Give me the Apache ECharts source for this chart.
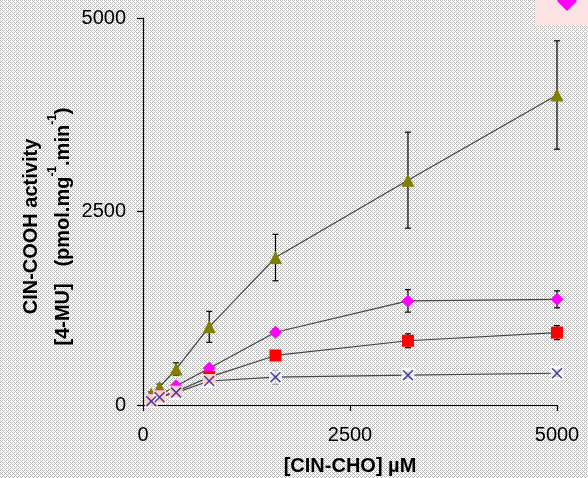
<!DOCTYPE html>
<html>
<head>
<meta charset="utf-8">
<script src="https://cdn.jsdelivr.net/npm/echarts@6/dist/echarts.min.js"></script>
<style>html,body{margin:0;padding:0;background:#fff}#c{width:588px;height:478px}</style>
</head>
<body>
<div id="c"></div>
<script>
// ---- data ----
var xVals = [100, 200, 400, 800, 1600, 3200, 5000];
var oliveVals = [140, 230, 465, 1010, 1905, 2905, 4005];
var oliveErr  = [30, 40, 80, 200, 300, 620, 700];
var magentaVals = [70, 130, 245, 474, 940, 1345, 1365];
var magentaErr  = [15, 20, 25, 30, 40, 145, 110];
var redVals = [60, 110, 175, 360, 640, 830, 935];
var redErr  = [10, 15, 20, 30, 55, 90, 90];
var blueVals = [50, 100, 160, 310, 360, 385, 410];
var blueErr  = [5, 10, 15, 20, 85, 40, 40];
var xTicks = [0, 2500, 5000];
var yTicks = [0, 2500, 5000];
var seriesNames = ['Series 1', 'Series 2', 'Series 3', 'Series 4'];

// ---- background pattern ----
var tile = document.createElement('canvas');
tile.width = 4; tile.height = 4;
var tc = tile.getContext('2d');
tc.fillStyle = '#ffffff'; tc.fillRect(0, 0, 4, 4);
tc.fillStyle = '#b8b8b8';
[[0,0],[2,0],[1,1],[0,2],[2,2],[3,3]].forEach(function (p) { tc.fillRect(p[0], p[1], 1, 1); });

function pts(vals) { return xVals.map(function (x, i) { return [x, vals[i]]; }); }
function errPts(vals, errs) { return xVals.map(function (x, i) { return [x, vals[i], errs[i]]; }); }

function errRender(params, api) {
  var x = api.value(0), y = api.value(1), e = api.value(2);
  var t = api.coord([x, y + e]);
  var b = api.coord([x, y - e]);
  var w = 3;
  var st = { stroke: '#000', lineWidth: 1.2 };
  return {
    type: 'group',
    children: [
      { type: 'line', shape: { x1: t[0], y1: t[1], x2: b[0], y2: b[1] }, style: st },
      { type: 'line', shape: { x1: t[0] - w, y1: t[1], x2: t[0] + w, y2: t[1] }, style: st },
      { type: 'line', shape: { x1: b[0] - w, y1: b[1], x2: b[0] + w, y2: b[1] }, style: st }
    ]
  };
}

function errSeries(vals, errs, z) {
  return { type: 'custom', renderItem: errRender, data: errPts(vals, errs), z: z, silent: true };
}

var lineStyle = { color: '#444', width: 1.2 };
var xPath = 'path://M0,1 L1,0 L10,9 L9,10 Z M9,0 L10,1 L1,10 L0,9 Z';

var chart = echarts.init(document.getElementById('c'), null, { renderer: 'canvas' });
chart.setOption({
  animation: false,
  backgroundColor: { image: tile, repeat: 'repeat' },
  textStyle: { fontFamily: 'Liberation Sans, Arial, sans-serif' },
  grid: { left: 143, right: 31, top: 18, bottom: 73, containLabel: false, outerBoundsMode: 'none' },
  graphic: [
    { type: 'rect', left: 535, top: 0, z: 0, shape: { width: 53, height: 25 }, style: { fill: '#fde2e4' }, silent: true }
  ],
  legend: {
    data: [seriesNames[1]],
    left: 557, top: -9,
    align: 'left',
    padding: 0,
    itemWidth: 20, itemHeight: 20,
    itemGap: 0,
    icon: 'diamond',
    formatter: function () { return ''; },
    textStyle: { fontSize: 14, color: '#444' }
  },
  xAxis: {
    type: 'value', min: 0, max: 5000, interval: 2500,
    name: '[CIN-CHO] µM', nameLocation: 'middle', nameGap: 51, nameMoveOverlap: false,
    nameTextStyle: { fontSize: 20, fontWeight: 'bold', color: '#000' },
    axisLine: { show: true, onZero: false, lineStyle: { color: '#000', width: 1.2 } },
    axisTick: { show: true, length: 6, lineStyle: { color: '#000', width: 1.2 } },
    axisLabel: { fontSize: 20, color: '#000', margin: 20, formatter: function (v) { return xTicks.indexOf(v) >= 0 ? String(v) : ''; } },
    splitLine: { show: false }
  },
  yAxis: {
    type: 'value', min: 0, max: 5000, interval: 2500,
    name: '{b|CIN-COOH activity}\n{b|[4-MU]   (pmol.mg}{s|-1}{b|.min}{s|-1}{b|)}',
    nameLocation: 'middle', nameGap: 64, nameRotate: 90, nameMoveOverlap: false,
    nameTextStyle: {
      lineHeight: 32,
      padding: [0, 30, 0, 0],
      rich: {
        b: { fontSize: 20, fontWeight: 'bold', color: '#000', lineHeight: 32 },
        s: { fontSize: 12, fontWeight: 'bold', color: '#000', verticalAlign: 'top', lineHeight: 32, padding: [0, 0, 10, 0] }
      }
    },
    axisLine: { show: true, lineStyle: { color: '#000', width: 1.2 } },
    axisTick: { show: true, length: 6, lineStyle: { color: '#000', width: 1.2 } },
    axisLabel: { fontSize: 20, color: '#000', margin: 17, formatter: function (v) { return yTicks.indexOf(v) >= 0 ? String(v) : ''; } },
    splitLine: { show: false }
  },
  series: [
    errSeries(oliveVals, oliveErr, 2),
    errSeries(magentaVals, magentaErr, 2),
    errSeries(redVals, redErr, 2),
    errSeries(blueVals, blueErr, 2),
    { name: seriesNames[0], type: 'line', data: pts(oliveVals), z: 3, symbol: 'triangle', symbolSize: 13,
      itemStyle: { color: '#808000' }, lineStyle: lineStyle },
    { name: seriesNames[1], type: 'line', data: pts(magentaVals), z: 3, symbol: 'diamond', symbolSize: 13,
      itemStyle: { color: '#ff00ff' }, lineStyle: lineStyle },
    { name: seriesNames[2], type: 'line', data: pts(redVals), z: 3, symbol: 'rect', symbolSize: 12,
      itemStyle: { color: '#ff0000' }, lineStyle: lineStyle },
    { name: seriesNames[3], type: 'line', data: pts(blueVals), z: 3, symbol: 'none', lineStyle: lineStyle },
    { name: 'box', type: 'scatter', data: pts(blueVals), z: 4, symbol: 'rect', symbolSize: [13, 14],
      itemStyle: { color: '#ffffff' }, silent: true },
    { name: 'cross', type: 'scatter', data: pts(blueVals), z: 5, symbol: xPath, symbolSize: 11,
      itemStyle: { color: '#1a1a8a' }, silent: true }
  ]
});
</script>
</body>
</html>
